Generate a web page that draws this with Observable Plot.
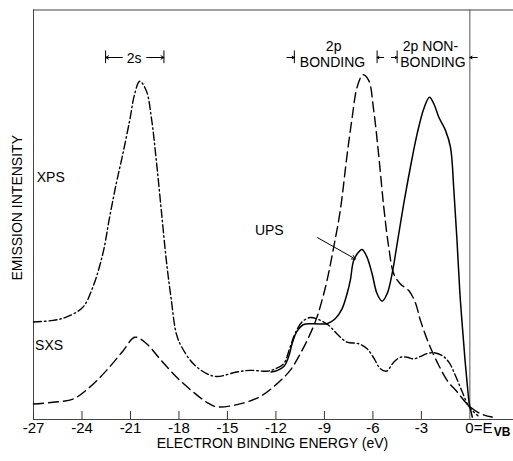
<!DOCTYPE html>
<html><head><meta charset="utf-8">
<script src="https://cdn.jsdelivr.net/npm/d3@7"></script>
<script src="https://cdn.jsdelivr.net/npm/@observablehq/plot@0.6"></script>
<style>body{margin:0;background:#fff;} svg{display:block;}</style>
</head><body><div id="chart"></div>
<script>
// XPS (dash-dot)
const xpsEnergy = [-27, -25.8, -24.98, -23.95, -23.33, -22.71, -22.29, -21.88, -21.47, -21.05, -20.74, -20.43, -20.02, -19.71, -19.40, -19.09, -18.78, -18.47, -18.16, -17.83, -17.11, -16.28, -15.66, -14.42, -13.60, -12.56, -12.15, -11.53, -11.12, -10.81, -10.39, -9.88, -9.36, -8.74, -8.12, -7.60, -6.88, -6.36, -5.93, -5.54, -5.16, -4.71, -4.30, -3.88, -3.47, -3.06, -2.64, -2.23, -1.71, -1.30, -0.89, -0.47, -0.06, 0.5];
const xpsIntensity = [23.8, 24.2, 25.0, 27.4, 32.3, 40.5, 49.4, 57.6, 64.9, 73.0, 79.5, 82.6, 80.3, 73.8, 63.2, 51.0, 38.8, 29.1, 20.9, 17.7, 13.6, 11.2, 10.5, 11.6, 12.0, 11.8, 12.2, 13.6, 17.7, 21.0, 23.8, 24.9, 24.4, 23.0, 20.5, 18.9, 18.5, 17.3, 14.9, 12.4, 11.8, 14.0, 15.2, 15.2, 14.8, 15.4, 16.1, 16.3, 15.6, 14.0, 10.7, 6.7, 3.2, 0.9];
// SXS (dashed)
const sxsEnergy = [-27, -25.8, -24.55, -23.52, -22.48, -21.45, -20.73, -20.0, -19.18, -18.14, -17.11, -16.28, -15.66, -14.22, -12.98, -11.94, -11.12, -10.50, -9.88, -9.46, -9.15, -8.84, -8.43, -8.02, -7.60, -7.29, -6.98, -6.61, -6.26, -5.95, -5.64, -5.33, -5.02, -4.71, -4.30, -3.78, -3.37, -3.06, -2.54, -1.92, -1.40, -0.78, -0.27, 0.04, 0.66, 1.38];
const sxsIntensity = [3.8, 4.2, 5.0, 7.9, 12.0, 16.8, 20.1, 18.5, 14.8, 10.3, 6.7, 4.2, 3.1, 3.8, 5.6, 8.7, 12.0, 16.0, 20.9, 25.0, 29.1, 33.9, 42.0, 51.0, 64.5, 73.5, 81.1, 84.2, 82.8, 75.5, 64.5, 52.0, 42.1, 35.6, 33.1, 31.5, 28.5, 24.2, 18.5, 13.2, 9.5, 6.7, 4.2, 3.0, 1.4, 0.6];
// UPS (solid)
const upsEnergy = [-12.3, -11.9, -11.5, -11.2, -11.0, -10.7, -10.29, -9.67, -8.84, -8.33, -7.91, -7.60, -7.40, -7.19, -6.88, -6.67, -6.36, -6.05, -5.74, -5.43, -5.12, -4.81, -4.50, -4.09, -3.68, -3.26, -2.85, -2.50, -2.23, -1.92, -1.51, -1.20, -0.99, -0.80, -0.62, -0.45, -0.30, -0.16, -0.04, 0.08, 0.15];
const upsIntensity = [11.6, 12.0, 13.0, 15.5, 18.5, 21.5, 23.2, 23.4, 23.4, 24.6, 27.0, 30.7, 33.9, 38.8, 40.9, 41.5, 39.6, 35.6, 30.7, 28.9, 30.7, 35.6, 42.9, 52.7, 61.6, 69.8, 75.9, 78.7, 77.1, 73.8, 70.6, 66.5, 56.0, 44.0, 31.0, 22.0, 14.5, 8.5, 4.0, 1.8, 0.6];

// axis ticks
const xTicks = [-27, -24, -21, -18, -15, -12, -9, -6, -3];
const xTickLabels = ["-27", "-24", "-21", "-18", "-15", "-12", "-9", "-6", "-3"];
const zeroTick = [0];
const zeroLabel = "0=E";
const zeroSub = "VB";

// curve labels
const curveLabels = ["XPS", "SXS", "UPS"];
const curveLabelEnergy = [-26.8, -26.9, -13.3];
const curveLabelIntensity = [59.2, 18.1, 46.2];

// UPS pointer
const pointerFrom = [-9.42, 44.4];
const pointerTo = [-7.09, 39.2];

// region annotations
const regionText = ["2s", "2p", "BONDING", "2p NON-", "BONDING"];
const regionTextEnergy = [-20.77, -8.43, -8.5, -2.44, -2.29];
const regionTextIntensity = [88.1, 91.0, 87.2, 91.0, 87.2];
const regionBars = [-22.54, -18.93, -10.86, -5.74, -4.50];
const barLow = 86.9, barHigh = 90.0;
const regionArrowFrom = [-21.5, -20.0, -11.32, -5.33, -4.86, 0.46];
const regionArrowTo = [-22.54, -18.93, -10.86, -5.74, -4.50, 0];
const regionArrowIntensity = 88.4;

const table = (E, I) => E.map((e, i) => ({e, v: I[i]}));
const xps = table(xpsEnergy, xpsIntensity);
const sxs = table(sxsEnergy, sxsIntensity);
const ups = table(upsEnergy, upsIntensity);
const font = "Liberation Sans, Arial, Helvetica, sans-serif";

const chart = Plot.plot({
  width: 513, height: 461,
  marginLeft: 33, marginRight: 0, marginTop: 9.5, marginBottom: 42,
  x: {domain: [-27, 2.7], axis: null, label: null},
  y: {domain: [0, 100], axis: null, label: null},
  style: {fontFamily: font, background: "white", color: "black"},
  marks: [
    Plot.ruleY([0, 100], {stroke: "#444", strokeWidth: 1}),
    Plot.ruleX([-27], {stroke: "#444", strokeWidth: 1}),
    Plot.ruleX(zeroTick, {stroke: "#555", strokeWidth: 1}),
    Plot.axisX(xTicks, {tickSize: 8, dy: -8, tickFormat: () => "", stroke: "#333", label: null}),
    Plot.text(xTicks, {x: d => d, y: 0, text: (d, i) => xTickLabels[i], dy: 9, fontSize: 15, textAnchor: "middle", lineAnchor: "middle"}),
    Plot.text(zeroTick, {x: d => d, y: 0, text: () => zeroLabel, dy: 9, dx: -4.5, fontSize: 15, textAnchor: "start", lineAnchor: "middle"}),
    Plot.text(zeroTick, {x: d => d, y: 0, text: () => zeroSub, dy: 12.5, dx: 24, fontSize: 12, fontWeight: "bold", textAnchor: "start", lineAnchor: "middle"}),
    Plot.text(["ELECTRON BINDING ENERGY (eV)"], {text: d => d, frameAnchor: "bottom", dy: 24, dx: -1, fontSize: 14, textAnchor: "middle", lineAnchor: "middle"}),
    Plot.text(["EMISSION INTENSITY"], {text: d => d, frameAnchor: "left", rotate: -90, dx: -16, dy: -7, fontSize: 14, textAnchor: "middle", lineAnchor: "middle"}),
    Plot.line(sxs, {x: "e", y: "v", curve: "catmull-rom", stroke: "black", strokeWidth: 1.4, strokeDasharray: "10,5"}),
    Plot.line(xps, {x: "e", y: "v", curve: "catmull-rom", stroke: "black", strokeWidth: 1.4, strokeDasharray: "8,3,1.5,3"}),
    Plot.line(ups, {x: "e", y: "v", curve: "catmull-rom", stroke: "black", strokeWidth: 1.5}),
    Plot.text(curveLabels, {x: (d, i) => curveLabelEnergy[i], y: (d, i) => curveLabelIntensity[i], text: d => d, textAnchor: "start", fontSize: 14}),
    Plot.arrow([0], {x1: pointerFrom[0], y1: pointerFrom[1], x2: pointerTo[0], y2: pointerTo[1], stroke: "black", strokeWidth: 1, headLength: 6}),
    Plot.text(regionText, {x: (d, i) => regionTextEnergy[i], y: (d, i) => regionTextIntensity[i], text: d => d, fontSize: 14}),
    Plot.ruleX(regionBars, {x: d => d, y1: barLow, y2: barHigh, stroke: "black", strokeWidth: 1}),
    Plot.arrow(regionArrowFrom, {x1: d => d, x2: (d, i) => regionArrowTo[i], y1: regionArrowIntensity, y2: regionArrowIntensity, stroke: "black", strokeWidth: 1, headLength: 5})
  ]
});
document.getElementById("chart").appendChild(chart);
</script>
</body></html>
